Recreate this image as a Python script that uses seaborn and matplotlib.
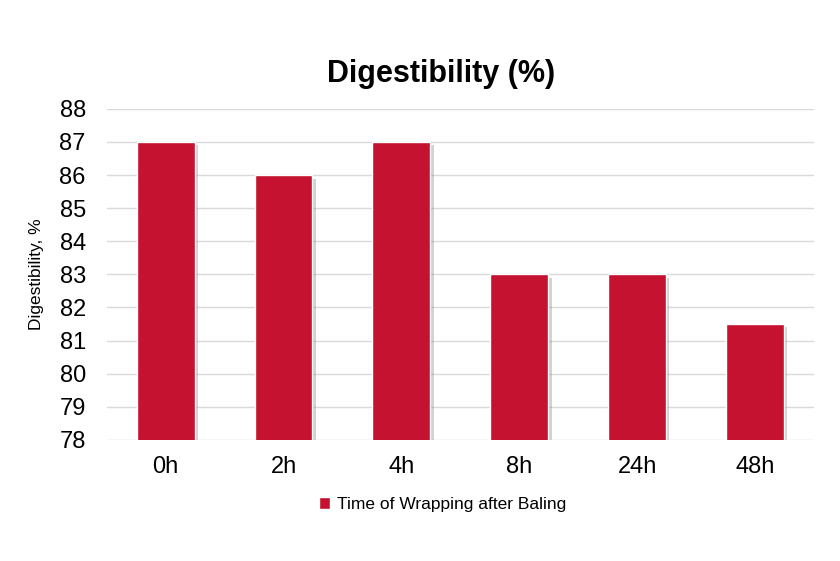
import seaborn as sns
import matplotlib.pyplot as plt
import matplotlib.patheffects as pe
import pandas as pd

# values
times = ["0h", "2h", "4h", "8h", "24h", "48h"]
digestibility = [87, 86, 87, 83, 83, 81.5]
series_name = "Time of Wrapping after Baling"

df = pd.DataFrame({"time": times, "digestibility": digestibility})

sns.set_style("white")
plt.rcParams["font.family"] = ["Liberation Sans", "DejaVu Sans"]
plt.rcParams["text.color"] = "black"

fig = plt.figure(figsize=(8.4, 5.61), dpi=100)
ax = fig.add_axes([0.127, 0.216, 0.842, 0.590])

red = "#C41230"
sns.barplot(data=df, x="time", y="digestibility", color=red, width=0.49,
            saturation=1, label=series_name, ax=ax)

ax.set_ylim(78, 88)
ax.set_yticks(range(78, 89))
ax.yaxis.grid(True, color="#d9d9d9", linewidth=1)
ax.set_axisbelow(True)
for s in ax.spines.values():
    s.set_visible(False)
ax.tick_params(axis="both", length=0, labelsize=17, colors="black")
ax.tick_params(axis="y", pad=15)
ax.tick_params(axis="x", pad=12)
ax.set_xlabel("")
ax.set_ylabel("Digestibility, %", fontsize=12.5, color="black")
ax.yaxis.set_label_coords(-0.088, 0.5)

fig.text(0.525, 0.868, "Digestibility (%)", fontsize=22, fontweight="bold",
         ha="center", va="center", color="black")

ax.legend(loc="center", bbox_to_anchor=(0.475, -0.195), frameon=False, fontsize=12.5,
          handlelength=0.65, handleheight=0.65, handletextpad=0.4)

# soft drop shadow on the bars only (after the legend so the handle stays flat)
for bar in ax.patches:
    bar.set_path_effects([pe.SimplePatchShadow(offset=(2.5, -2.5), shadow_rgbFace="#808080", alpha=0.35),
                          pe.Normal()])

fig.savefig("out.png", dpi=100, facecolor="white")
